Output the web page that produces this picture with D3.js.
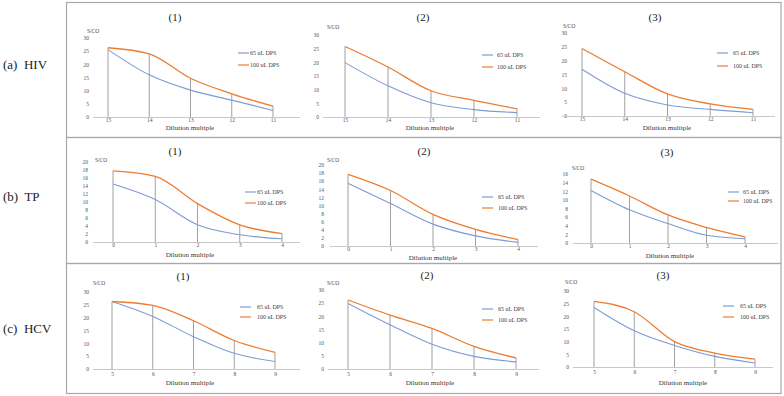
<!DOCTYPE html>
<html><head><meta charset="utf-8">
<script src="https://cdn.jsdelivr.net/npm/d3@7"></script>
<style>
body{margin:0;background:#fff;}
svg text{font-family:"Liberation Serif","Times New Roman",serif;fill:#404040;}
</style></head>
<body>
<svg id="c" width="784" height="396"></svg>
<script>
// ---- data ----
const hivCategories = ["15","14","13","12","11"];
const tpCategories  = ["0","1","2","3","4"];
const hcvCategories = ["5","6","7","8","9"];
const seriesNames = ["65 uL DPS","100 uL DPS"];
const rowLabels = ["(a)  HIV","(b)  TP","(c)  HCV"];
const panelTitles = ["(1)","(2)","(3)"];

const hiv1_65  = [25.6, 16.0, 10.2, 6.4, 2.5];
const hiv1_100 = [26.3, 24.0, 14.7, 8.8, 4.1];
const hiv2_65  = [19.9, 11.4, 5.2, 2.7, 1.6];
const hiv2_100 = [25.8, 18.3, 9.6, 6.1, 3.0];
const hiv3_65  = [16.9, 8.2, 4.0, 2.4, 1.2];
const hiv3_100 = [24.4, 16.0, 8.0, 4.4, 2.4];

const tp1_65  = [14.5, 10.6, 4.3, 1.8, 0.8];
const tp1_100 = [17.8, 16.4, 9.6, 4.3, 2.1];
const tp2_65  = [15.5, 10.5, 5.4, 2.5, 0.9];
const tp2_100 = [17.7, 13.7, 7.8, 4.1, 1.6];
const tp3_65  = [12.2, 7.7, 4.5, 1.8, 1.0];
const tp3_100 = [14.8, 10.9, 6.5, 3.6, 1.4];

const hcv1_65  = [26.3, 20.5, 12.6, 6.1, 2.9];
const hcv1_100 = [26.3, 24.8, 18.8, 11.1, 6.5];
const hcv2_65  = [24.9, 16.8, 9.4, 4.8, 2.7];
const hcv2_100 = [26.2, 20.5, 15.4, 8.6, 4.2];
const hcv3_65  = [23.5, 14.3, 8.5, 4.2, 1.6];
const hcv3_100 = [25.9, 21.8, 10.0, 5.5, 3.1];

const ticks30 = [0,5,10,15,20,25,30];
const ticks20 = [0,2,4,6,8,10,12,14,16,18,20];
const ticks16 = [0,2,4,6,8,10,12,14,16];

// ---- layout ----
const colors = ["#7f9bd3","#ed7d31"];
const svg = d3.select("#c");

// row boxes
const rows = [[2,137],[137,263],[263,393]];
rows.forEach(r=>{
  svg.append("rect").attr("x",66.5).attr("y",r[0]+0.5).attr("width",714.5).attr("height",r[1]-r[0])
    .attr("fill","none").attr("stroke","#a8a8a8").attr("stroke-width",1.2);
});
const rowLabelY = [64,196,328];
rowLabels.forEach((t,i)=>{
  svg.append("text").attr("x",3).attr("y",rowLabelY[i]).attr("dominant-baseline","central")
    .attr("font-size",13).style("fill","#222").attr("xml:space","preserve").text(t);
});

const panels = [
 {cats:hivCategories,s:[hiv1_65,hiv1_100],ticks:ticks30,cx:[108,273],ax:[93,300],y:[117,38],tx:89,title:[175,17],sco:[87,31],leg:[238,250,53,65],xl:[190,128],cy:121},
 {cats:hivCategories,s:[hiv2_65,hiv2_100],ticks:ticks30,cx:[345,517],ax:[323,540],y:[117,35],tx:319,title:[423,17],sco:[327,27],leg:[482,497,55,67],xl:[430,128],cy:121},
 {cats:hivCategories,s:[hiv3_65,hiv3_100],ticks:ticks30,cx:[582,753],ax:[562,775],y:[116,33],tx:567,title:[655,17],sco:[563,26],leg:[717,733,53,66],xl:[667,128],cy:120},
 {cats:tpCategories,s:[tp1_65,tp1_100],ticks:ticks20,cx:[113,282],ax:[93,300],y:[242,162],tx:88,title:[175,151],sco:[95,160],leg:[245,257,192,203],xl:[190,255],cy:246},
 {cats:tpCategories,s:[tp2_65,tp2_100],ticks:ticks20,cx:[348,518],ax:[330,538],y:[246,165],tx:324,title:[424,151],sco:[327,160],leg:[482,498,197,208],xl:[433,258],cy:250},
 {cats:tpCategories,s:[tp3_65,tp3_100],ticks:ticks16,cx:[591,745],ax:[573,778],y:[243,174],tx:568,title:[667,152],sco:[572,168],leg:[728,743,192,201],xl:[670,256],cy:247},
 {cats:hcvCategories,s:[hcv1_65,hcv1_100],ticks:ticks30,cx:[112,275],ax:[93,300],y:[369,292],tx:89,title:[183,276],sco:[93,283],leg:[240,257,307,317],xl:[190,383],cy:375},
 {cats:hcvCategories,s:[hcv2_65,hcv2_100],ticks:ticks30,cx:[348,516],ax:[328,539],y:[369,290],tx:324,title:[427,275],sco:[327,283],leg:[482,498,309,320],xl:[430,383],cy:375},
 {cats:hcvCategories,s:[hcv3_65,hcv3_100],ticks:ticks30,cx:[594,755],ax:[573,773],y:[367,291],tx:569,title:[663,275],sco:[565,282],leg:[723,740,306,317],xl:[683,383],cy:373},
];

panels.forEach((p,pi)=>{
  const g = svg.append("g");
  const x = d3.scalePoint().domain(p.cats).range(p.cx);
  const tmax = p.ticks[p.ticks.length-1];
  const y = d3.scaleLinear().domain([0,tmax]).range(p.y);

  // y tick labels
  const ya = d3.axisLeft(y).tickValues(p.ticks).tickSize(0).tickPadding(0);
  const yg = g.append("g").attr("transform",`translate(${p.tx},0)`).call(ya);
  yg.select(".domain").remove();
  yg.selectAll("text").attr("font-size",5.5).style("fill","#555").attr("font-family","Liberation Serif");

  // x axis
  g.append("line").attr("x1",p.ax[0]).attr("x2",p.ax[1]).attr("y1",y(0)+0.5).attr("y2",y(0)+0.5)
    .attr("stroke","#c8c8c8").attr("stroke-width",1);
  const xa = d3.axisBottom(x).tickSize(0).tickPadding(0);
  const xg = g.append("g").attr("transform",`translate(0,${p.cy-2.5})`).call(xa);
  xg.select(".domain").remove();
  xg.selectAll("text").attr("font-size",5.5).style("fill","#555").attr("font-family","Liberation Serif");

  // drop lines
  g.selectAll(".drop").data(p.cats).enter().append("line")
    .attr("x1",d=>x(d)).attr("x2",d=>x(d))
    .attr("y1",(d,i)=>y(Math.max(p.s[0][i],p.s[1][i]))).attr("y2",y(0))
    .attr("stroke","#a0a0a0").attr("stroke-width",1);

  // series lines
  const line = d3.line().x((d,i)=>x(p.cats[i])).y(d=>y(d)).curve(d3.curveMonotoneX);
  [0,1].forEach(k=>{
    g.append("path").attr("d",line(p.s[k])).attr("fill","none")
      .attr("stroke",colors[k]).attr("stroke-width",k==1?1.3:1.1);
  });

  // title
  g.append("text").attr("x",p.title[0]).attr("y",p.title[1]).attr("text-anchor","middle")
    .attr("dominant-baseline","central").attr("font-size",11).style("fill","#222").text(panelTitles[pi%3]);
  // S/CO
  g.append("text").attr("x",p.sco[0]).attr("y",p.sco[1]).attr("dominant-baseline","central")
    .attr("font-size",5.5).style("fill","#444").text("S/CO");
  // x label
  g.append("text").attr("x",p.xl[0]).attr("y",p.xl[1]).attr("text-anchor","middle")
    .attr("dominant-baseline","central").attr("font-size",7).style("fill","#333").text("Dilution multiple");
  // legend
  [0,1].forEach(k=>{
    const ly = k==0?p.leg[2]:p.leg[3];
    g.append("line").attr("x1",p.leg[0]).attr("x2",p.leg[0]+11).attr("y1",ly).attr("y2",ly)
      .attr("stroke",colors[k]).attr("stroke-width",1.2);
    g.append("text").attr("x",p.leg[1]).attr("y",ly).attr("dominant-baseline","central")
      .attr("font-size",6).style("fill","#444").text(seriesNames[k]);
  });
});
</script>
</body></html>
